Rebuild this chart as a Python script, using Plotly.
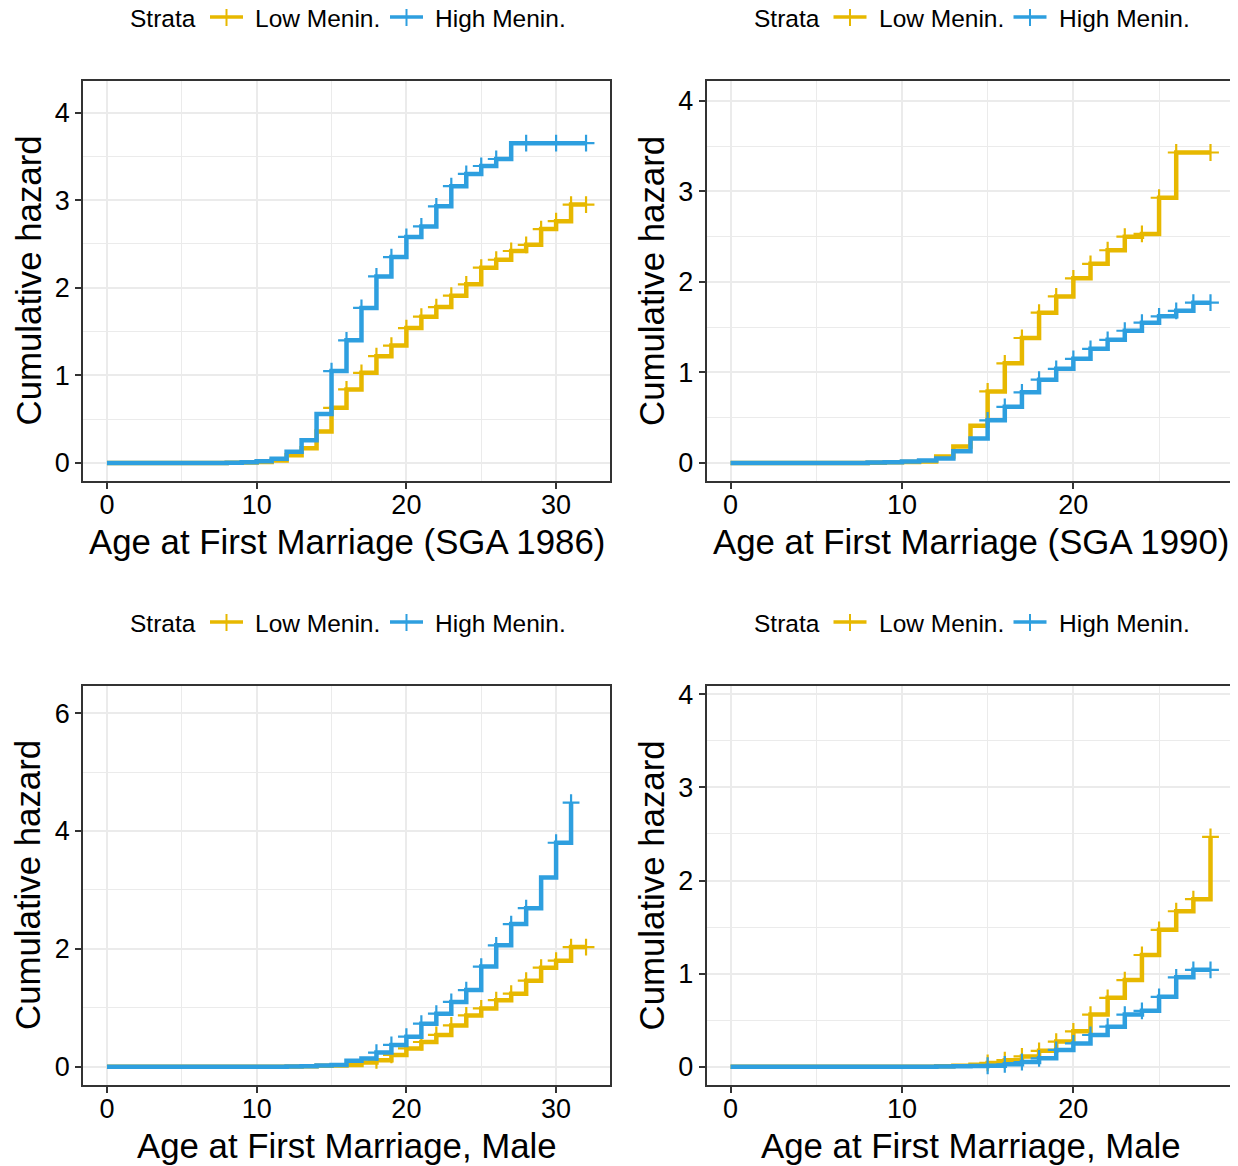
import plotly.graph_objects as go

# ---------------- data ----------------
strata_names = ["Low Menin.", "High Menin."]
strata_colors = ["#E7B800", "#2E9FDF"]

# Panel 1: SGA 1986
t_1986 = list(range(0, 33))
low_1986 = [0, 0, 0, 0, 0, 0, 0, 0, 0.003, 0.006, 0.012, 0.03, 0.09, 0.17, 0.36, 0.63, 0.84,
            1.03, 1.22, 1.34, 1.54, 1.67, 1.78, 1.91, 2.04, 2.23, 2.32, 2.42, 2.49, 2.67, 2.76,
            2.95, 2.95]
high_1986 = [0, 0, 0, 0, 0, 0, 0, 0, 0.004, 0.008, 0.02, 0.05, 0.13, 0.26, 0.56, 1.05, 1.40,
             1.77, 2.13, 2.35, 2.58, 2.70, 2.93, 3.16, 3.30, 3.39, 3.47, 3.65, 3.65, 3.65, 3.65,
             3.65, 3.65]
low_cens_1986 = list(range(15, 33))
high_cens_1986 = list(range(15, 27)) + [28, 30, 32]

# Panel 2: SGA 1990
t_1990 = list(range(0, 29))
low_1990 = [0, 0, 0, 0, 0, 0, 0, 0, 0.003, 0.006, 0.01, 0.015, 0.07, 0.18, 0.41, 0.79, 1.10,
            1.38, 1.66, 1.84, 2.04, 2.20, 2.35, 2.50, 2.53, 2.93, 3.43, 3.43, 3.43]
high_1990 = [0, 0, 0, 0, 0, 0, 0, 0, 0.004, 0.008, 0.015, 0.026, 0.05, 0.13, 0.27, 0.47, 0.62,
             0.78, 0.92, 1.04, 1.15, 1.26, 1.36, 1.46, 1.55, 1.62, 1.68, 1.77, 1.77]
low_cens_1990 = list(range(15, 27)) + [28]
high_cens_1990 = list(range(15, 29))

# Panel 3: Male (long follow-up)
t_male_a = list(range(0, 33))
low_male_a = [0, 0, 0, 0, 0, 0, 0, 0, 0, 0, 0, 0, 0.005, 0.01, 0.015, 0.02, 0.03, 0.07, 0.11,
              0.20, 0.31, 0.42, 0.54, 0.70, 0.87, 0.99, 1.13, 1.24, 1.46, 1.68, 1.80, 2.03, 2.03]
high_male_a = [0, 0, 0, 0, 0, 0, 0, 0, 0, 0, 0, 0, 0.005, 0.01, 0.02, 0.03, 0.10, 0.14, 0.24,
               0.37, 0.51, 0.73, 0.90, 1.10, 1.30, 1.70, 2.06, 2.42, 2.69, 3.21, 3.80, 4.48]
low_cens_male_a = list(range(18, 33))
high_cens_male_a = list(range(18, 29)) + [30, 31]

# Panel 4: Male (shorter follow-up)
t_male_b = list(range(0, 29))
low_male_b = [0, 0, 0, 0, 0, 0, 0, 0, 0, 0, 0, 0, 0.005, 0.01, 0.02, 0.04, 0.07, 0.11, 0.17,
              0.27, 0.38, 0.56, 0.74, 0.93, 1.20, 1.47, 1.67, 1.80, 2.47]
high_male_b = [0, 0, 0, 0, 0, 0, 0, 0, 0, 0, 0, 0, 0.003, 0.005, 0.008, 0.01, 0.025, 0.05, 0.09,
               0.18, 0.25, 0.34, 0.43, 0.56, 0.60, 0.75, 0.96, 1.04, 1.04]
low_cens_male_b = list(range(15, 29))
high_cens_male_b = list(range(15, 29))

x_titles = ["Age at First Marriage (SGA 1986)", "Age at First Marriage (SGA 1990)",
            "Age at First Marriage, Male", "Age at First Marriage, Male"]
y_title = "Cumulative hazard"
legend_title = "Strata"

# ---------------- layout constants ----------------
W, H = 1238, 1166
# page body offset of the rendered figure
OFF_X, OFF_Y = 8.0, 8.0
FONT = "Liberation Sans, Arial, Helvetica, sans-serif"
panels = [
    dict(t=t_1986, s=[low_1986, high_1986], c=[low_cens_1986, high_cens_1986],
         left=83, right=610, top=81, bottom=481, xr=[-1.6, 33.6], yr=[-0.205, 4.36],
         ydt=1, yminor=0.5),
    dict(t=t_1990, s=[low_1990, high_1990], c=[low_cens_1990, high_cens_1990],
         left=706.5, right=1234.5, top=81, bottom=481, xr=[-1.4, 29.4], yr=[-0.2, 4.22],
         ydt=1, yminor=0.5),
    dict(t=t_male_a, s=[low_male_a, high_male_a], c=[low_cens_male_a, high_cens_male_a],
         left=83, right=610, top=686, bottom=1085, xr=[-1.6, 33.6], yr=[-0.31, 6.46],
         ydt=2, yminor=1),
    dict(t=t_male_b, s=[low_male_b, high_male_b], c=[low_cens_male_b, high_cens_male_b],
         left=706.5, right=1234.5, top=686, bottom=1085, xr=[-1.4, 29.4], yr=[-0.197, 4.09],
         ydt=1, yminor=0.5),
]

fig = go.Figure()
annotations = []
shapes = []
layout = {}


def px_x(p):
    return (p - OFF_X) / W


def px_y(p):
    return 1 - (p - OFF_Y) / H


for i, p in enumerate(panels):
    k = "" if i == 0 else str(i + 1)
    xa, ya = "x" + k, "y" + k
    for j in range(2):
        times = p["t"]
        vals = p["s"][j]
        fig.add_trace(go.Scatter(
            x=times, y=vals, mode="lines", line=dict(color=strata_colors[j], width=4.5, shape="hv"),
            xaxis=xa, yaxis=ya, showlegend=False, name=strata_names[j]))
        cx = p["c"][j]
        cy = [vals[times.index(c)] for c in cx]
        fig.add_trace(go.Scatter(
            x=cx, y=cy, mode="markers",
            marker=dict(symbol="cross-thin", size=12, line=dict(color=strata_colors[j], width=2.2)),
            xaxis=xa, yaxis=ya, showlegend=False, name=strata_names[j]))

    axis_common = dict(
        showline=True, mirror=True, linecolor="#333333", linewidth=1.5,
        ticks="outside", ticklen=6, tickwidth=1.5, tickcolor="#333333",
        showgrid=True, gridcolor="#EBEBEB", gridwidth=2, zeroline=False, automargin=False,
        tickfont=dict(family=FONT, size=27, color="black"), tickmode="linear", tick0=0,
    )
    layout["xaxis" + k] = dict(
        axis_common, domain=[px_x(p["left"]), px_x(p["right"])], range=p["xr"], dtick=10,
        anchor=ya, minor=dict(dtick=5, tick0=0, showgrid=True, gridcolor="#EBEBEB", gridwidth=1.2),
        ticklabelstandoff=-7)
    layout["yaxis" + k] = dict(
        axis_common, domain=[px_y(p["bottom"]), px_y(p["top"])], range=p["yr"], dtick=p["ydt"],
        anchor=xa, minor=dict(dtick=p["yminor"], tick0=0, showgrid=True, gridcolor="#EBEBEB",
                              gridwidth=1.2),
        ticklabelstandoff=0)

    cx_mid = (p["left"] + p["right"]) / 2
    cy_mid = (p["top"] + p["bottom"]) / 2
    # y axis title
    annotations.append(dict(
        text=y_title, x=px_x(p["left"] - 55.5), y=px_y(cy_mid), xref="paper", yref="paper",
        xanchor="center", yanchor="middle", textangle=-90, showarrow=False,
        font=dict(family=FONT, size=34.8, color="black")))
    # x axis title
    annotations.append(dict(
        text=x_titles[i], x=px_x(cx_mid), y=px_y(p["bottom"] + 60), xref="paper", yref="paper",
        xanchor="center", yanchor="middle", showarrow=False,
        font=dict(family=FONT, size=34.8, color="black")))

    # legend above panel
    ly = p["top"] - 63
    L = p["left"]
    annotations.append(dict(
        text=legend_title, x=px_x(L + 45), y=px_y(ly), xref="paper", yref="paper",
        xanchor="left", yanchor="middle", showarrow=False,
        font=dict(family=FONT, size=24.5, color="black")))
    key_offsets = [(127, 160, 170), (307, 340, 350)]
    for j, (a, b, tx) in enumerate(key_offsets):
        shapes.append(dict(type="line", xref="paper", yref="paper",
                           x0=px_x(L + a), x1=px_x(L + b), y0=px_y(ly - 1), y1=px_y(ly - 1),
                           line=dict(color=strata_colors[j], width=3.5)))
        mid = (a + b) / 2
        shapes.append(dict(type="line", xref="paper", yref="paper",
                           x0=px_x(L + mid), x1=px_x(L + mid), y0=px_y(ly - 9), y1=px_y(ly + 8),
                           line=dict(color=strata_colors[j], width=2)))
        annotations.append(dict(
            text=strata_names[j], x=px_x(L + tx), y=px_y(ly), xref="paper", yref="paper",
            xanchor="left", yanchor="middle", showarrow=False,
            font=dict(family=FONT, size=24.5, color="black")))

fig.update_layout(
    width=W, height=H, margin=dict(l=0, r=0, t=0, b=0, autoexpand=False),
    paper_bgcolor="white", plot_bgcolor="white",
    annotations=annotations, shapes=shapes, showlegend=False,
    font=dict(family=FONT, color="black"),
    **layout)

fig.write_html("out.html")
